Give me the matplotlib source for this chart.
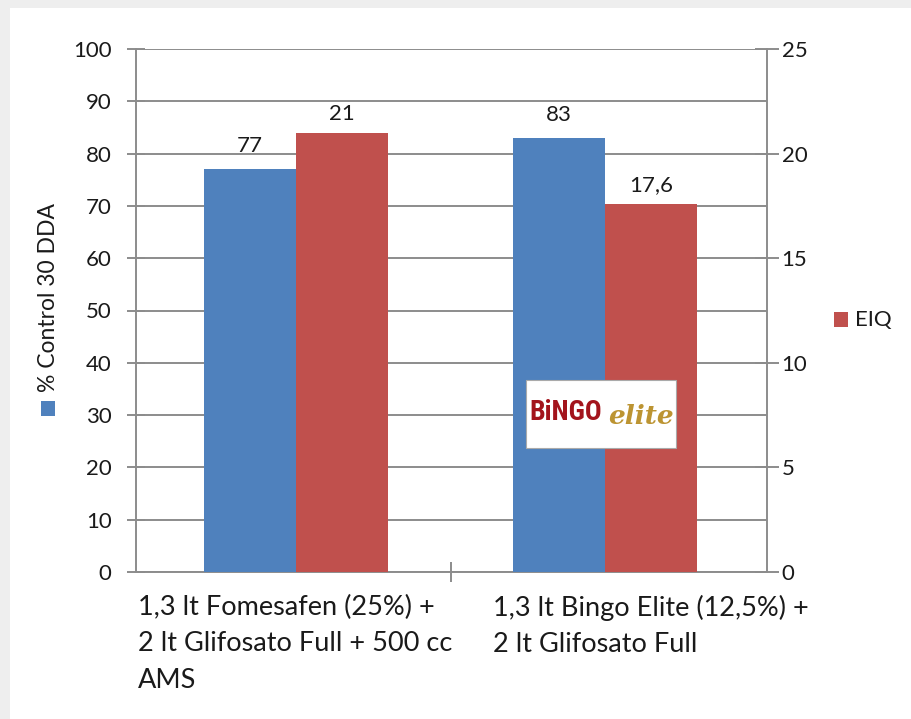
import matplotlib
matplotlib.use("Agg")
import matplotlib.pyplot as plt
from matplotlib.patches import Rectangle
from matplotlib.ticker import MultipleLocator, FixedLocator

categories = ["1,3 lt Fomesafen (25%) +\n2 lt Glifosato Full + 500 cc\nAMS",
              "1,3 lt Bingo Elite (12,5%) +\n2 lt Glifosato Full"]
control = [77, 83]
eiq = [21, 17.6]
control_labels = ["77", "83"]
eiq_labels = ["21", "17,6"]

BLUE = "#4f81bd"
RED = "#c0504d"
GRID = "#8c8c8c"
FONT = "Lato"
TXT = "#1a1a1a"

W, H = 912, 719
fig = plt.figure(figsize=(W / 100, H / 100), dpi=100, facecolor="#eeeeee")
fig.patches.append(Rectangle((10 / W, 0), (W - 10) / W, (H - 8) / H,
                             transform=fig.transFigure, facecolor="white",
                             edgecolor="none", zorder=-10))

L, R, T, B = 136, 767, 49, 572
ax = fig.add_axes([L / W, 1 - B / H, (R - L) / W, (B - T) / H])
ax.patch.set_alpha(0)
ax2 = ax.twinx()
ax2.patch.set_alpha(0)

x = [0, 1]
bw = 0.297
ax.bar([i - bw / 2 for i in x], control, width=bw, color=BLUE, zorder=3)
ax2.bar([i + bw / 2 for i in x], eiq, width=bw, color=RED, zorder=3)

ax.set_xlim(-0.518, 1.524)
ax.set_ylim(0, 100)
ax2.set_ylim(0, 25)
ax.yaxis.set_major_locator(MultipleLocator(10))
ax2.yaxis.set_major_locator(MultipleLocator(5))
ax.grid(axis="y", color=GRID, linewidth=1.4, zorder=1)
ax.set_axisbelow(True)

for a in (ax, ax2):
    for s in a.spines.values():
        s.set_visible(False)
for a, side in ((ax, "left"), (ax, "bottom"), (ax2, "right")):
    a.spines[side].set_visible(True)
    a.spines[side].set_color(GRID)
    a.spines[side].set_linewidth(1.4)

ax.tick_params(axis="y", direction="inout", length=13, width=1.4, color=GRID,
               labelsize=16, pad=11, labelcolor=TXT)
ax2.tick_params(axis="y", direction="inout", length=17, width=1.4, color=GRID,
                labelsize=16, pad=2, labelcolor=TXT)
ax.xaxis.set_major_locator(FixedLocator([0.5]))
ax.set_xticklabels([])
ax.tick_params(axis="x", direction="inout", length=15, width=1.4, color=GRID)
for lab in ax.get_yticklabels() + ax2.get_yticklabels():
    lab.set_fontfamily(FONT)

# data labels
for i, (v, s) in enumerate(zip(control, control_labels)):
    ax.annotate(s, (i - bw / 2, v), xytext=(0, 9.5), textcoords="offset points",
                ha="center", va="bottom", fontsize=16, fontfamily=FONT,
                color=TXT)
for i, (v, s) in enumerate(zip(eiq, eiq_labels)):
    ax2.annotate(s, (i + bw / 2, v), xytext=(0, 6.5), textcoords="offset points",
                 ha="center", va="bottom", fontsize=16, fontfamily=FONT,
                 color=TXT)

# category labels
label_x = [-0.5115, 0.6375]
for lx, c in zip(label_x, categories):
    ax.text(lx, -0.043, c, transform=ax.get_xaxis_transform(), ha="left",
            va="top", fontsize=19.5, fontfamily=FONT, linespacing=1.58,
            color=TXT)

# left legend / axis title
fig.patches.append(Rectangle((41 / W, 1 - 416 / H), 14 / W, 15 / H,
                             transform=fig.transFigure, facecolor=BLUE,
                             edgecolor="none"))
fig.text(49 / W, 1 - 298 / H, "% Control 30 DDA", rotation=90, ha="center",
         va="center", fontsize=16.5, fontfamily=FONT, color=TXT)

# right legend
fig.patches.append(Rectangle((834 / W, 1 - 327 / H), 14 / W, 15 / H,
                             transform=fig.transFigure, facecolor=RED,
                             edgecolor="none"))
fig.text(855 / W, 1 - 320 / H, "EIQ", ha="left", va="center", fontsize=16,
         fontfamily=FONT, color=TXT)

# logo
fig.patches.append(Rectangle((526 / W, 1 - 448 / H), 150 / W, 68 / H,
                             transform=fig.transFigure, facecolor="white",
                             edgecolor="#aaaaaa", linewidth=0.8, zorder=5))
fig.text(529 / W, 1 - 413 / H, "BiNGO", ha="left", va="center", fontsize=20,
         fontfamily=["Roboto Condensed", "DejaVu Sans"], fontweight="bold",
         color="#a3141c", zorder=6)
fig.text(674 / W, 1 - 416 / H, "elite", ha="right", va="center", fontsize=19,
         fontfamily="DejaVu Serif", fontweight="bold", style="italic",
         color="#bc9432", zorder=6)

fig.savefig("out.png", dpi=100, facecolor=fig.get_facecolor())
